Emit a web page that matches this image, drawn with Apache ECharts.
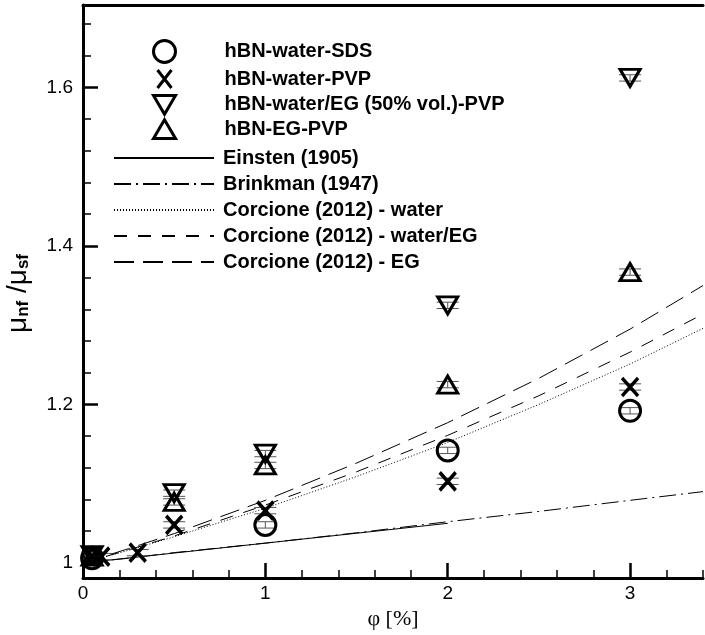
<!DOCTYPE html>
<html>
<head>
<meta charset="utf-8">
<script src="https://cdn.jsdelivr.net/npm/echarts@6/dist/echarts.min.js"></script>
<style>
html,body{margin:0;padding:0;background:#fff;}
#c{width:705px;height:635px;}
</style>
</head>
<body>
<div id="c"></div>
<script>
// ---- data ----
const xTicks = [0, 1, 2, 3];
const yTicks = [1, 1.2, 1.4, 1.6];

const sdsPhi = [0.05, 1, 2, 3];
const sdsVal = [1.006, 1.048, 1.142, 1.192];
const sdsErr = [0.004, 0.004, 0.004, 0.004];

const pvpPhi = [0.05, 0.1, 0.3, 0.5, 1, 2, 3];
const pvpVal = [1.008, 1.008, 1.013, 1.048, 1.066, 1.103, 1.222];
const pvpErr = [0.004, 0.004, 0.004, 0.004, 0.004, 0.004, 0.004];

const wegPhi = [0.05, 0.5, 1, 2, 3];
const wegVal = [1.010, 1.088, 1.138, 1.325, 1.612];
const wegErr = [0.004, 0.004, 0.004, 0.004, 0.004];

const egPhi = [0.05, 0.5, 1, 2, 3];
const egVal = [1.008, 1.077, 1.123, 1.225, 1.367];
const egErr = [0.004, 0.004, 0.004, 0.004, 0.004];

const einPhi = [0, 0.5, 1, 1.5, 2];
const einVal = [1, 1.0125, 1.025, 1.0375, 1.05];

const curvePhi = [0, 0.25, 0.5, 1, 1.5, 2, 2.5, 3, 3.4];
const brinkVal = [1, 1.006, 1.013, 1.025, 1.038, 1.052, 1.065, 1.079, 1.090];
const corcWVal = [1, 1.016, 1.033, 1.069, 1.109, 1.152, 1.200, 1.251, 1.296];
const corcWEGVal = [1, 1.0165, 1.034, 1.073, 1.115, 1.161, 1.211, 1.266, 1.314];
const corcEGVal = [1, 1.018, 1.037, 1.079, 1.126, 1.177, 1.233, 1.295, 1.350];

const names = {
  sds: 'hBN-water-SDS',
  pvp: 'hBN-water-PVP',
  weg: 'hBN-water/EG (50% vol.)-PVP',
  eg: 'hBN-EG-PVP',
  ein: 'Einsten (1905)',
  brink: 'Brinkman (1947)',
  cw: 'Corcione (2012) - water',
  cweg: 'Corcione (2012) - water/EG',
  ceg: 'Corcione (2012) - EG'
};

// ---- build ----
const zip = (a, b) => a.map((v, i) => [v, b[i]]);
const zip3 = (a, b, c) => a.map((v, i) => [v, b[i], c[i]]);

const xMinor = [];
for (let i = 1; i <= 17; i++) { const v = +(i * 0.2).toFixed(1); if (Math.abs(v - Math.round(v)) > 1e-6) xMinor.push(v); }
const yMinor = [];
for (let i = 1; i <= 17; i++) { const v = +(1 + i * 0.04).toFixed(2); if (Math.abs(v * 5 - Math.round(v * 5)) > 1e-6) yMinor.push(v); }

const X_MIN = 0, X_MAX = 3.4, Y_MIN = 0.981, Y_MAX = 1.704;
const FONT = 'Liberation Sans, Arial, Helvetica, sans-serif';

const crossPath = 'path://M0,0L10,12M10,0L0,12';
const legendCross = 'path://M0,0M22,22M4,2L18,20M18,2L4,20';
const downTri = 'path://M0,0L20,0L10,17Z';
const upTri = 'path://M10,0L20,17L0,17Z';
const markerStyle = { color: 'rgba(255,255,255,0)', borderColor: '#000', borderWidth: 3, opacity: 1 };

function scatter(name, phi, val, symbol, size, bw) {
  return {
    name, type: 'scatter', data: zip(phi, val), symbol, symbolSize: size,
    itemStyle: Object.assign({}, markerStyle, bw ? { borderWidth: bw } : {}), z: 5, silent: true
  };
}
function errBars(phi, val, err) {
  return {
    type: 'custom', data: zip3(phi, val, err), z: 4, silent: true,
    renderItem: (params, api) => {
      const x = api.value(0), y = api.value(1), e = api.value(2);
      const t = api.coord([x, y + e]), b = api.coord([x, y - e]);
      const hw = 11;
      const st = { stroke: '#555', lineWidth: 1 };
      return { type: 'group', children: [
        { type: 'line', shape: { x1: t[0], y1: t[1], x2: b[0], y2: b[1] }, style: st },
        { type: 'line', shape: { x1: t[0] - hw, y1: t[1], x2: t[0] + hw, y2: t[1] }, style: st },
        { type: 'line', shape: { x1: b[0] - hw, y1: b[1], x2: b[0] + hw, y2: b[1] }, style: st }
      ]};
    }
  };
}
function line(name, phi, val, type) {
  return {
    name, type: 'line', data: zip(phi, val), symbol: 'none', z: 3, silent: true,
    lineStyle: { color: '#000', width: 1, type }, itemStyle: { color: '#000' }
  };
}

const chart = echarts.init(document.getElementById('c'), null, { renderer: 'canvas' });
chart.setOption({
  animation: false,
  backgroundColor: '#fff',
  grid: { left: 83, right: 2, top: 5, bottom: 55, containLabel: false },
  xAxis: [
    { type: 'value', position: 'bottom', min: X_MIN, max: X_MAX,
      axisLine: { show: true, lineStyle: { color: '#000', width: 3 } },
      axisTick: { show: true, inside: true, length: 15, lineStyle: { color: '#000', width: 2.5 }, customValues: xTicks },
      axisLabel: { show: true, customValues: xTicks, color: '#000', fontSize: 19, fontFamily: FONT, margin: 6 },
      splitLine: { show: false },
      name: 'φ [%]', nameLocation: 'middle', nameGap: 30,
      nameTextStyle: { fontFamily: 'Liberation Serif, Times New Roman, serif', fontSize: 22, color: '#000' } },
    { type: 'value', position: 'bottom', min: X_MIN, max: X_MAX,
      axisLine: { show: false },
      axisTick: { show: true, inside: true, length: 8, lineStyle: { color: '#000', width: 1.5 }, customValues: xMinor },
      axisLabel: { show: false }, splitLine: { show: false } },
    { type: 'value', position: 'top', min: X_MIN, max: X_MAX,
      axisLine: { show: true, lineStyle: { color: '#000', width: 3 } },
      axisTick: { show: false }, axisLabel: { show: false }, splitLine: { show: false } }
  ],
  yAxis: [
    { type: 'value', position: 'left', min: Y_MIN, max: Y_MAX,
      axisLine: { show: true, lineStyle: { color: '#000', width: 3 } },
      axisTick: { show: true, inside: true, length: 15, lineStyle: { color: '#000', width: 2.5 }, customValues: yTicks },
      axisLabel: { show: true, customValues: yTicks, color: '#000', fontSize: 19, fontFamily: FONT, margin: 10,
        formatter: v => (Math.abs(v - 1) < 1e-9 ? '1' : v.toFixed(1)) },
      splitLine: { show: false } },
    { type: 'value', position: 'left', min: Y_MIN, max: Y_MAX,
      axisLine: { show: false },
      axisTick: { show: true, inside: true, length: 8, lineStyle: { color: '#000', width: 1.5 }, customValues: yMinor },
      axisLabel: { show: false }, splitLine: { show: false } }
  ],
  legend: [
    { orient: 'vertical', left: 147, top: 34, itemWidth: 22, itemHeight: 22, itemGap: 2.5, symbolKeepAspect: true,
      data: [
        { name: names.sds, icon: 'circle' },
        { name: names.pvp, icon: legendCross },
        { name: names.weg, icon: downTri },
        { name: names.eg, icon: upTri }
      ],
      itemStyle: { color: 'rgba(255,255,255,0)', borderColor: '#000', borderWidth: 3, opacity: 1 },
      textStyle: { fontFamily: FONT, fontWeight: 'bold', fontSize: 20, color: '#000', padding: [0, 0, 0, 44] },
      selectedMode: false },
    { orient: 'vertical', left: 108, top: 143, itemWidth: 100, itemHeight: 22, itemGap: 6,
      data: [names.ein, names.brink, names.cw, names.cweg, names.ceg],
      itemStyle: { color: 'rgba(0,0,0,0)', borderWidth: 0, opacity: 0 },
      textStyle: { fontFamily: FONT, fontWeight: 'bold', fontSize: 20, color: '#000', padding: [0, 0, 0, 4] },
      selectedMode: false }
  ],
  graphic: [
    { type: 'text', left: 4, top: 254, rotation: Math.PI / 2, originX: 0, originY: 0,
      style: { text: 'μ{s|nf} /μ{s|sf}', fontFamily: FONT, fontSize: 28, fill: '#000',
        rich: { s: { fontFamily: FONT, fontSize: 17, fontWeight: 'bold', fill: '#000', verticalAlign: 'bottom', padding: [11, 0, 0, 0] } } } }
  ],
  series: [
    line(names.ein, einPhi, einVal, 'solid'),
    line(names.brink, curvePhi, brinkVal, [17, 5, 2, 5]),
    line(names.cw, curvePhi, corcWVal, [1, 2]),
    line(names.cweg, curvePhi, corcWEGVal, [13, 11]),
    line(names.ceg, curvePhi, corcEGVal, [20, 9]),
    errBars(sdsPhi, sdsVal, sdsErr),
    errBars(pvpPhi, pvpVal, pvpErr),
    errBars(wegPhi, wegVal, wegErr),
    errBars(egPhi, egVal, egErr),
    scatter(names.sds, sdsPhi, sdsVal, 'circle', 21),
    scatter(names.pvp, pvpPhi, pvpVal, crossPath, [16, 18], 3.6),
    scatter(names.weg, wegPhi, wegVal, downTri, [20, 17]),
    scatter(names.eg, egPhi, egVal, upTri, [20, 17])
  ]
});
</script>
</body>
</html>
